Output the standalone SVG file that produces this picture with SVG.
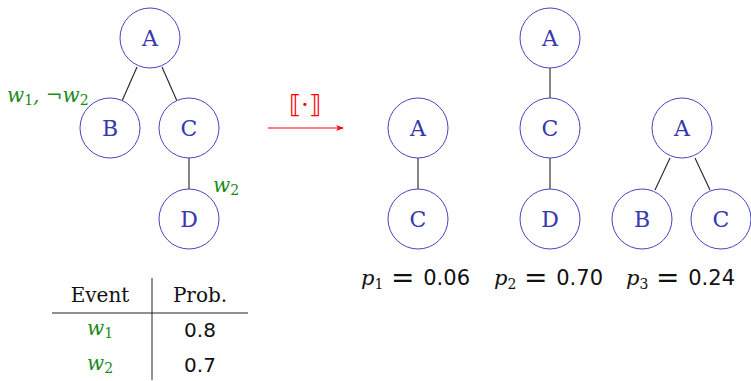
<svg xmlns="http://www.w3.org/2000/svg" width="751" height="381" viewBox="0 0 751 381">
<style>
.n circle{fill:#fff;stroke:#4444c4;stroke-width:1}
.n text{font-family:"DejaVu Serif","Liberation Serif",serif;font-size:22px;fill:#3838b0;text-anchor:middle}
.e line{stroke:#222;stroke-width:1.1}
.g{font-family:"DejaVu Serif","Liberation Serif",serif;font-style:italic;font-size:20px;fill:#1a8a1a}
.gs{font-size:14px;font-style:normal}
.t{font-family:"DejaVu Serif","Liberation Serif",serif;font-size:20px;fill:#111;text-anchor:middle}
.num{font-family:"DejaVu Sans","Liberation Sans",sans-serif;font-size:20px;fill:#111}
.pn{font-family:"DejaVu Sans","Liberation Sans",sans-serif;font-size:21px;fill:#111}
.eq{font-family:"DejaVu Sans","Liberation Sans",sans-serif;font-size:28px;fill:#111}
.it{font-family:"DejaVu Serif","Liberation Serif",serif;font-style:italic;font-size:21px;fill:#111}
.sub{font-size:14px;font-style:normal}
</style>
<defs>
<marker id="ar" viewBox="0 0 10 10" refX="9" refY="5" markerWidth="8" markerHeight="8" markerUnits="userSpaceOnUse" orient="auto">
<path d="M0,1 L10,5 L0,9 L3,5 Z" fill="#f00"/>
</marker>
</defs>
<g id="connectors" class="e">
<line x1="137" y1="67" x2="122" y2="101"/>
<line x1="162" y1="67" x2="177" y2="101"/>
<line x1="189" y1="158" x2="189" y2="189"/>
<line x1="418" y1="158" x2="418" y2="189"/>
<line x1="550" y1="68" x2="550" y2="98"/>
<line x1="550" y1="158" x2="550" y2="189"/>
<line x1="670" y1="158" x2="655" y2="190"/>
<line x1="695" y1="158" x2="710" y2="190"/>
<line x1="268" y1="128" x2="343" y2="128" style="stroke:#f00;stroke-width:1.2" marker-end="url(#ar)"/>
</g>
<g id="L_A" class="n"><circle cx="150" cy="38" r="30"/><text x="150" y="46">A</text></g>
<g id="L_B" class="n"><circle cx="110" cy="128" r="30"/><text x="110" y="136">B</text></g>
<g id="L_C" class="n"><circle cx="189" cy="128" r="30"/><text x="189" y="136">C</text></g>
<g id="L_D" class="n"><circle cx="189" cy="219" r="30"/><text x="189" y="227">D</text></g>
<g id="M1_A" class="n"><circle cx="418" cy="128" r="30"/><text x="418" y="136">A</text></g>
<g id="M1_C" class="n"><circle cx="418" cy="219" r="30"/><text x="418" y="227">C</text></g>
<g id="M2_A" class="n"><circle cx="550" cy="38" r="30"/><text x="550" y="46">A</text></g>
<g id="M2_C" class="n"><circle cx="550" cy="128" r="30"/><text x="550" y="136">C</text></g>
<g id="M2_D" class="n"><circle cx="550" cy="219" r="30"/><text x="550" y="227">D</text></g>
<g id="M3_A" class="n"><circle cx="682" cy="128" r="30"/><text x="682" y="136">A</text></g>
<g id="M3_B" class="n"><circle cx="642" cy="219" r="30"/><text x="642" y="227">B</text></g>
<g id="M3_C" class="n"><circle cx="721" cy="219" r="30"/><text x="721" y="227">C</text></g>
<text class="g" x="7" y="102">w<tspan class="gs" dy="3">1</tspan><tspan dy="-3">, ¬w</tspan><tspan class="gs" dy="3">2</tspan></text>
<text class="g" x="213" y="192">w<tspan class="gs" dy="3">2</tspan></text>
<text x="305" y="113" style="font-family:'DejaVu Serif',serif;font-size:25px;fill:#f00;text-anchor:middle">⟦·⟧</text>
<g id="probs">
<text class="it" x="361" y="285">p<tspan class="sub" dy="4">1</tspan></text>
<text class="eq" x="391" y="287">=</text>
<text class="pn" x="470" y="285" text-anchor="end">0.06</text>
<text class="it" x="494" y="285">p<tspan class="sub" dy="4">2</tspan></text>
<text class="eq" x="524" y="287">=</text>
<text class="pn" x="603" y="285" text-anchor="end">0.70</text>
<text class="it" x="626" y="285">p<tspan class="sub" dy="4">3</tspan></text>
<text class="eq" x="656" y="287">=</text>
<text class="pn" x="735" y="285" text-anchor="end">0.24</text>
</g>
<g id="table">
<line x1="152" y1="278" x2="152" y2="380" stroke="#222" stroke-width="1"/>
<line x1="52" y1="313" x2="248" y2="313" stroke="#222" stroke-width="1"/>
<text class="t" x="100" y="302">Event</text>
<text class="t" x="200" y="302">Prob.</text>
<text class="g" x="87" y="335">w<tspan class="gs" dy="3">1</tspan></text>
<text class="num" x="200" y="337" text-anchor="middle">0.8</text>
<text class="g" x="87" y="370">w<tspan class="gs" dy="3">2</tspan></text>
<text class="num" x="200" y="372" text-anchor="middle">0.7</text>
</g>
</svg>
